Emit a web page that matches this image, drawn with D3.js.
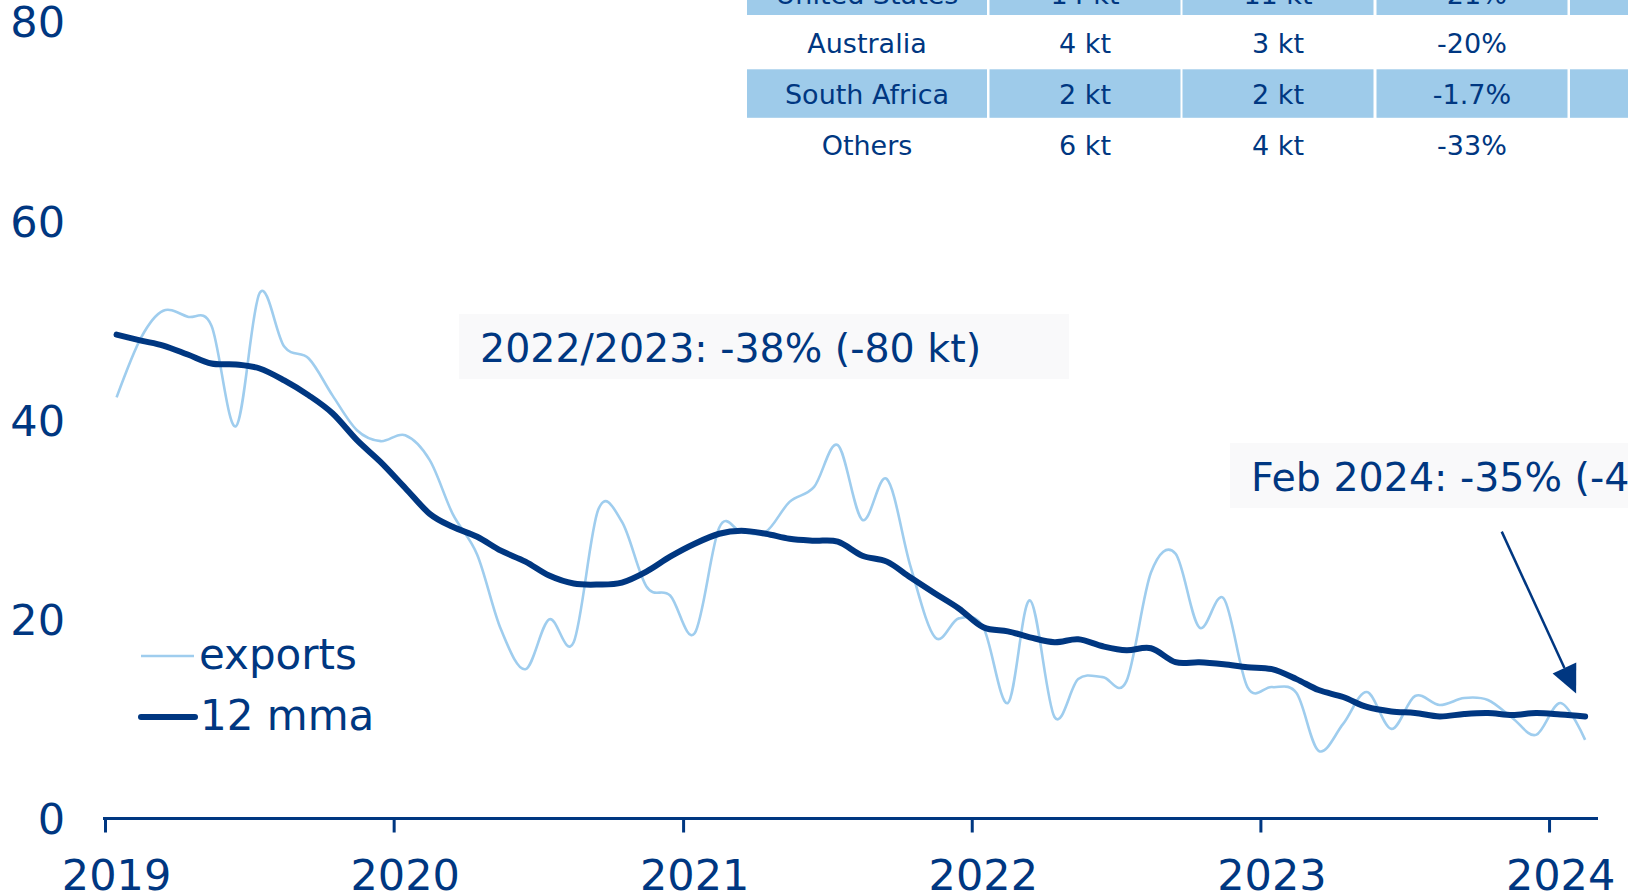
<!DOCTYPE html>
<html><head><meta charset="utf-8">
<script src="https://cdn.jsdelivr.net/npm/d3@7"></script>
<style>
html,body{margin:0;padding:0;background:#fff;overflow:hidden}
svg{display:block;font-family:"DejaVu Sans",Verdana,sans-serif}
</style></head><body>
<svg id="chart" width="1628" height="896"></svg>
<script>
// ---------- data ----------
const firstMonth = "2019-01";
const lastMonth = "2024-02";
const exportsKt = [
  42.3, 48.3, 51.0, 50.4, 49.5, 39.4, 52.8, 47.4, 46.2, 42.5, 39.0, 37.9,
  38.5, 36.0, 30.6, 26.5, 19.0, 15.0, 20.0, 17.7, 31.0, 29.8, 23.3, 22.4,
  18.6, 29.2, 28.8, 28.8, 31.8, 33.3, 37.5, 30.0, 34.1, 25.3, 18.2, 20.1,
  19.2, 11.6, 21.9, 10.2, 14.0, 14.2, 13.8, 24.7, 26.6, 19.2, 22.1, 13.2,
  13.2, 12.6, 6.8, 9.5, 12.7, 9.0, 12.3, 11.4, 12.1, 11.9, 10.1, 8.4,
  11.6, 7.9
];
const mma12 = [
  48.6, 48.0, 47.5, 46.6, 45.7, 45.6, 45.2, 44.0, 42.5, 40.7, 38.0, 35.8,
  33.2, 30.6, 29.3, 28.3, 26.9, 25.8, 24.4, 23.6, 23.5, 23.7, 24.8, 26.3,
  27.6, 28.6, 28.9, 28.6, 28.1, 27.9, 27.8, 26.4, 25.8, 24.2, 22.6, 21.1,
  19.2, 18.8, 18.2, 17.7, 18.0, 17.3, 16.9, 17.1, 15.7, 15.7, 15.5, 15.2,
  15.0, 14.0, 12.9, 12.2, 11.2, 10.75, 10.6, 10.25, 10.5, 10.6, 10.4, 10.6,
  10.45, 10.25
];
const yTicks = [0, 20, 40, 60, 80];
const xTickYears = [2019, 2020, 2021, 2022, 2023, 2024];
const seriesNames = ["exports", "12 mma"];
const annotation1 = "2022/2023: -38% (-80 kt)";
const annotation2 = "Feb 2024: -35% (-4 kt)";
const tableCountry = ["United States", "Australia", "South Africa", "Others"];
const tableCol2 = ["14 kt", "4 kt", "2 kt", "6 kt"];
const tableCol3 = ["11 kt", "3 kt", "2 kt", "4 kt"];
const tableCol4 = ["-21%", "-20%", "-1.7%", "-33%"];
const tableCol5 = ["", "", "", ""];

// ---------- styles ----------
const NAVY = "#003781", LIGHT = "#9fcdee", CELL = "#9ecbea", BOX = "#f9f9fa";

const svg = d3.select("#chart");
svg.append("rect").attr("width", 1628).attr("height", 896).attr("fill", "#fff");

const parseM = d3.timeParse("%Y-%m");
const months = d3.timeMonth.range(parseM(firstMonth), d3.timeMonth.offset(parseM(lastMonth), 1))
  .map(d => new Date(d.getFullYear(), d.getMonth(), 15));

const x = d3.scaleTime()
  .domain([new Date(2019, 0, 1), new Date(2024, 2, 1)])
  .range([105.5, 1597]);
const y = d3.scaleLinear().domain([0, 80]).range([818.5, 22]);

// ---------- table (top right) ----------
const tableCols = [tableCountry, tableCol2, tableCol3, tableCol4, tableCol5];
const colLeft = [747, 989.5, 1182.5, 1376.5, 1570];
const colW = [240, 191, 191, 191, 191];
const rowTop0 = -33.5, rowPitch = 51.4, cellH = 48.5;
const tbl = svg.append("g");
tableCountry.forEach((_, r) => {
  tableCols.forEach((col, c) => {
    const top = rowTop0 + r * rowPitch;
    if (r % 2 === 0) {
      tbl.append("rect").attr("x", colLeft[c]).attr("y", top)
        .attr("width", colW[c]).attr("height", cellH).attr("fill", CELL);
    }
    const baseY = r === 0 ? 4 : top + cellH / 2 + 10.5;
    tbl.append("text").attr("x", colLeft[c] + colW[c] / 2).attr("y", baseY)
      .attr("text-anchor", "middle")
      .attr("font-size", 27).attr("fill", NAVY).text(col[r]);
  });
});

// ---------- y axis labels ----------
svg.append("g").selectAll("text").data(yTicks).join("text")
  .attr("x", 65).attr("y", d => y(d)).attr("dy", "0.36em")
  .attr("text-anchor", "end").attr("font-size", 43).attr("fill", NAVY)
  .text(d => d);

// ---------- x axis ----------
const xAxis = svg.append("g");
xAxis.append("line").attr("x1", 103).attr("x2", 1598)
  .attr("y1", y(0)).attr("y2", y(0)).attr("stroke", NAVY).attr("stroke-width", 3);
xAxis.selectAll("line.tick").data(xTickYears).join("line").attr("class", "tick")
  .attr("x1", d => x(new Date(d, 0, 1))).attr("x2", d => x(new Date(d, 0, 1)))
  .attr("y1", y(0)).attr("y2", y(0) + 14).attr("stroke", NAVY).attr("stroke-width", 3);
xAxis.selectAll("text").data(xTickYears).join("text")
  .attr("x", d => x(new Date(d, 0, 15))).attr("y", 890)
  .attr("text-anchor", "middle").attr("font-size", 43).attr("fill", NAVY)
  .text(d => d);

// ---------- lines ----------
const line = d3.line().x((d, i) => x(months[i])).y(d => y(d)).curve(d3.curveCardinal.tension(0));
svg.append("path").datum(exportsKt).attr("d", line)
  .attr("fill", "none").attr("stroke", LIGHT).attr("stroke-width", 2.6);
svg.append("path").datum(mma12).attr("d", line)
  .attr("fill", "none").attr("stroke", NAVY).attr("stroke-width", 6)
  .attr("stroke-linecap", "round").attr("stroke-linejoin", "round");

// ---------- legend ----------
const lg = svg.append("g");
lg.append("line").attr("x1", 141).attr("x2", 194).attr("y1", 656).attr("y2", 656)
  .attr("stroke", LIGHT).attr("stroke-width", 2.6);
lg.append("text").attr("x", 199).attr("y", 669).attr("font-size", 42).attr("fill", NAVY).text(seriesNames[0]);
lg.append("line").attr("x1", 141).attr("x2", 195).attr("y1", 717).attr("y2", 717)
  .attr("stroke", NAVY).attr("stroke-width", 6).attr("stroke-linecap", "round");
lg.append("text").attr("x", 200).attr("y", 730).attr("font-size", 42).attr("fill", NAVY).text(seriesNames[1]);

// ---------- annotations ----------
function note(bx, by, bw, txt) {
  svg.append("rect").attr("x", bx).attr("y", by).attr("width", bw).attr("height", 65).attr("fill", BOX);
  svg.append("text").attr("x", bx + 21).attr("y", by + 48).attr("font-size", 39.5)
    .attr("fill", NAVY).text(txt);
}
note(459, 314, 610, annotation1);
note(1230, 443, 420, annotation2);

// arrow pointing to last 12 mma value
const lastI = mma12.length - 1;
const px = x(months[lastI]), py = y(mma12[lastI]);
const tip = [px - 9, py - 23];
const ux = 0.418, uy = 0.909, L = 178, AH = 28, AW = 13;
const start = [tip[0] - L * ux, tip[1] - L * uy];
const base = [tip[0] - AH * ux, tip[1] - AH * uy];
svg.append("line").attr("x1", start[0]).attr("y1", start[1]).attr("x2", base[0]).attr("y2", base[1])
  .attr("stroke", NAVY).attr("stroke-width", 2.5);
svg.append("path")
  .attr("d", `M${tip[0]},${tip[1]}L${base[0] + AW * uy},${base[1] - AW * ux}L${base[0] - AW * uy},${base[1] + AW * ux}Z`)
  .attr("fill", NAVY);
</script>
</body></html>
